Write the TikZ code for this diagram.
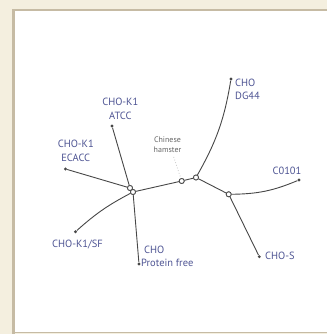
\documentclass[tikz,border=0pt]{standalone}
\usepackage{fontspec}
\setmainfont{PT Sans}
\definecolor{bgbeige}{HTML}{F4EFDF}
\definecolor{framec}{HTML}{C6BBA4}
\definecolor{labc}{HTML}{4F5594}
\definecolor{edgec}{HTML}{474747}
\begin{document}
\begin{tikzpicture}[x=1bp,y=1bp,
  edge/.style={draw=edgec,line width=0.9bp},
  opencirc/.style={circle,draw=edgec,fill=white,line width=0.8bp,minimum size=5bp,inner sep=0pt},
  leaf/.style={circle,fill=edgec,minimum size=3.2bp,inner sep=0pt},
  lab/.style={text=labc,font=\fontsize{10.5}{13.5}\selectfont,inner sep=0pt},
  smalllab/.style={text=gray!80!black,font=\fontsize{8}{10}\selectfont,inner sep=0pt,align=center}]
\useasboundingbox (0,0) rectangle (327,334);
\fill[bgbeige] (0,0) rectangle (327,334);
\fill[white] (13.5,1.5) rectangle (330,324);
\draw[framec,line width=2.8bp] (13.5,-2) -- (13.5,324) -- (330,324);
\draw[framec,line width=1.5bp] (13.5,1.5) -- (330,1.5);
% nodes
\node[opencirc] (hubA) at (130,146) {};
\node[opencirc] (hubB) at (133,142) {};
\node[opencirc] (ham) at (181.7,153) {};
\node[opencirc] (j1) at (196,156.5) {};
\node[opencirc] (j2) at (228.7,139.7) {};
\node[leaf] (atcc) at (112,208) {};
\node[leaf] (ecacc) at (65.5,165) {};
\node[leaf] (sf) at (75.5,102.3) {};
\node[leaf] (pf) at (139,70) {};
\node[leaf] (dg) at (231,255) {};
\node[leaf] (c01) at (299,154) {};
\node[leaf] (chos) at (259.3,77.3) {};
% edges
\draw[edge] (hubA) -- (atcc);
\draw[edge] (hubA) -- (ecacc);
\draw[edge] (hubB) to[bend right=7] (sf);
\draw[edge] (hubB) -- (pf);
\draw[edge] (hubB) -- (ham);
\draw[edge] (ham) -- (j1);
\draw[edge] (j1) to[bend right=10] (dg);
\draw[edge] (j1) -- (j2);
\draw[edge] (j2) to[bend right=11] (c01);
\draw[edge] (j2) -- (chos);
% redraw hub circles on top
\node[opencirc] at (hubA) {};
\node[opencirc] at (hubB) {};
\node[opencirc] at (ham) {};
\node[opencirc] at (j1) {};
\node[opencirc] at (j2) {};
% labels
\node[lab,align=center] (latcc) at (120.3,225) {CHO-K1\\ATCC};
\node[lab,align=center] (lecacc) at (75.8,183.2) {CHO-K1\\ECACC};
\node[lab] (lsf) at (77.5,89.5) {CHO-K1/SF};
\node[lab,align=left,anchor=south west] (lpf) at (141,67) {\hspace{3bp}CHO\\Protein free};
\node[lab,align=left,anchor=north west] (ldg) at (235,255.5) {CHO\\DG44};
\node[lab] (lc01) at (287,163) {C0101};
\node[lab,anchor=west] (lchos) at (265,78.5) {CHO-S};
\node[smalllab] (lham) at (167.5,189) {Chinese\\hamster};
\draw[gray!45,line width=0.8bp,dotted] (173.7,177) -- (ham);
\end{tikzpicture}
\end{document}
